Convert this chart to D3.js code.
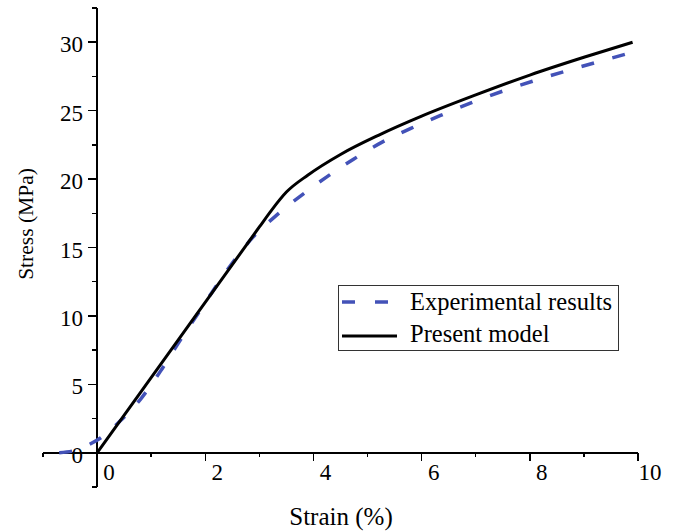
<!DOCTYPE html>
<html>
<head>
<meta charset="utf-8">
<script src="https://cdn.jsdelivr.net/npm/d3@7"></script>
<style>
  body { margin: 0; background: #fff; }
  svg { display: block; }
</style>
</head>
<body>
<div id="chart"></div>
<script>
// Experimental results (dashed blue)
const expStrain = [-0.7, -0.43, -0.15, 0.07, 0.42, 0.82, 1.17, 1.5, 1.87, 2.12, 2.48, 2.87, 3.33, 3.79, 4.26, 4.74, 5.27, 5.8, 6.35, 6.9, 7.48, 8.05, 8.63, 9.2, 9.93];
const expStress = [0, 0.15, 0.6, 1.1, 2.3, 4.0, 5.95, 8.0, 10.2, 11.7, 13.75, 15.7, 17.4, 18.85, 20.2, 21.45, 22.7, 23.7, 24.65, 25.55, 26.4, 27.15, 27.85, 28.5, 29.3];

// Present model (solid black)
const modelStrain = [0, 3.0, 3.22, 3.5, 3.9, 4.5, 5.2, 6.0, 7.0, 8.0, 9.0, 9.9];
const modelStress = [0, 16.5, 17.7, 19.05, 20.3, 21.8, 23.2, 24.6, 26.15, 27.6, 28.9, 30.0];

// axis ticks
const xTicks = [-1, 0, 1, 2, 3, 4, 5, 6, 7, 8, 9, 10];
const xTickLabels = [0, 2, 4, 6, 8, 10];
const yTicks = [-2.5, 0, 2.5, 5, 7.5, 10, 12.5, 15, 17.5, 20, 22.5, 25, 27.5, 30, 32.5];
const yTickLabels = [0, 5, 10, 15, 20, 25, 30];

const seriesNames = ["Experimental results", "Present model"];

const width = 674, height = 532;
const blue = "#4352b8";
const font = "'Liberation Serif', 'Times New Roman', serif";

const svg = d3.select("#chart")
  .append("svg")
    .attr("width", width)
    .attr("height", height)
    .style("font-family", font);

const x = d3.scaleLinear().domain([-1, 10]).range([43, 638]);
const y = d3.scaleLinear().domain([-2.5, 32.5]).range([487, 8]);

// x axis line (sits at stress = 0)
const axes = svg.append("g")
  .attr("stroke", "#000")
  .attr("stroke-width", 1.5)
  .style("shape-rendering", "crispEdges");

axes.append("line")
  .attr("x1", x(-1)).attr("x2", x(10))
  .attr("y1", y(0)).attr("y2", y(0));

axes.selectAll(".xtick")
  .data(xTicks)
  .join("line")
  .attr("x1", d => x(d)).attr("x2", d => x(d))
  .attr("y1", y(0))
  .attr("y2", d => y(0) + (d % 2 === 0 ? 8 : 4));

// y axis line (sits at strain = 0)
axes.append("line")
  .attr("x1", x(0)).attr("x2", x(0))
  .attr("y1", y(32.5)).attr("y2", y(-2.5));

axes.selectAll(".ytick")
  .data(yTicks)
  .join("line")
  .attr("y1", d => y(d)).attr("y2", d => y(d))
  .attr("x1", x(0))
  .attr("x2", d => x(0) - (d % 5 === 0 ? 9 : 5));

// tick labels
svg.selectAll(".xlabel")
  .data(xTickLabels)
  .join("text")
  .attr("x", d => x(d) + 12)
  .attr("y", y(0) + 27)
  .attr("text-anchor", "middle")
  .style("font-size", "23px")
  .text(d => d);

svg.selectAll(".ylabel")
  .data(yTickLabels)
  .join("text")
  .attr("x", x(0) - 14)
  .attr("y", d => y(d) + 10)
  .attr("text-anchor", "end")
  .style("font-size", "23px")
  .text(d => d);

// axis titles
svg.append("text")
  .attr("x", 341)
  .attr("y", 525)
  .attr("text-anchor", "middle")
  .style("font-size", "25px")
  .text("Strain (%)");

svg.append("text")
  .attr("transform", "translate(33,224) rotate(-90)")
  .attr("text-anchor", "middle")
  .style("font-size", "21.5px")
  .text("Stress (MPa)");

// curves
const line = d3.line()
  .x(d => x(d[0]))
  .y(d => y(d[1]))
  .curve(d3.curveMonotoneX);

svg.append("path")
  .datum(expStrain.map((s, i) => [s, expStress[i]]))
  .attr("d", line)
  .attr("fill", "none")
  .attr("stroke", blue)
  .attr("stroke-width", 3.5)
  .attr("stroke-dasharray", "13,19");

svg.append("path")
  .datum(modelStrain.map((s, i) => [s, modelStress[i]]))
  .attr("d", line)
  .attr("fill", "none")
  .attr("stroke", "#000")
  .attr("stroke-width", 3);

// legend box
const legend = svg.append("g");

legend.append("rect")
  .attr("x", 338.5).attr("y", 285.5)
  .attr("width", 280).attr("height", 65)
  .attr("fill", "#fff")
  .attr("stroke", "#333")
  .attr("stroke-width", 1);

legend.append("line")
  .attr("x1", 342).attr("x2", 397)
  .attr("y1", 302).attr("y2", 302)
  .attr("stroke", blue)
  .attr("stroke-width", 3.5)
  .attr("stroke-dasharray", "13,20");

legend.append("line")
  .attr("x1", 342).attr("x2", 397)
  .attr("y1", 336).attr("y2", 336)
  .attr("stroke", "#000")
  .attr("stroke-width", 3);

legend.selectAll(".legtext")
  .data(seriesNames)
  .join("text")
  .attr("x", 410)
  .attr("y", (d, i) => 310 + i * 32)
  .style("font-size", "24.5px")
  .text(d => d);
</script>
</body>
</html>
